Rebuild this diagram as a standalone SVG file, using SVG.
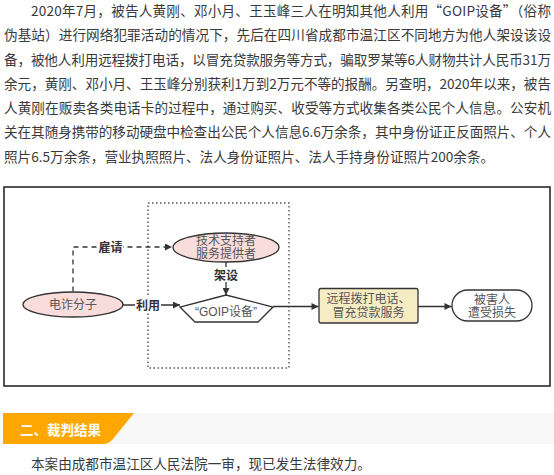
<svg xmlns="http://www.w3.org/2000/svg" width="554" height="475" viewBox="0 0 554 475">
<defs>
<style>
.p{font-family:"Noto Sans CJK SC","Liberation Sans",sans-serif;font-size:13.6px;fill:#3a3a3a;dominant-baseline:central}
.n{font-family:"Liberation Sans","Noto Sans CJK SC",sans-serif;font-size:12px;fill:#555;text-anchor:middle;dominant-baseline:central}
.l{font-family:"Noto Sans CJK SC","Liberation Sans",sans-serif;font-size:12px;font-weight:bold;fill:#333;text-anchor:middle;dominant-baseline:central}
.e{stroke:#333;stroke-width:1.3;fill:none}
.pink{fill:#f9dcdc;stroke:#333;stroke-width:1.3}
</style>
<marker id="ah" viewBox="0 0 10 10" refX="10" refY="5" markerWidth="9" markerHeight="7" markerUnits="userSpaceOnUse" orient="auto">
<path d="M0,0 L10,5 L0,10 Z" fill="#333"/>
</marker>
</defs>
<rect width="554" height="475" fill="#fff"/>
<g id="body-text">
<text class="p" x="31" y="9.5" textLength="520" lengthAdjust="spacing">2020年7月，被告人黄刚、邓小月、王玉峰三人在明知其他人利用“GOIP设备”（俗称</text>
<text class="p" x="4" y="34" textLength="547" lengthAdjust="spacing">伪基站）进行网络犯罪活动的情况下，先后在四川省成都市温江区不同地方为他人架设该设</text>
<text class="p" x="4" y="58.5" textLength="547" lengthAdjust="spacing">备，被他人利用远程拨打电话，以冒充贷款服务等方式，骗取罗某等6人财物共计人民币31万</text>
<text class="p" x="4" y="83" textLength="547" lengthAdjust="spacing">余元，黄刚、邓小月、王玉峰分别获利1万到2万元不等的报酬。另查明，2020年以来，被告</text>
<text class="p" x="4" y="107" textLength="547" lengthAdjust="spacing">人黄刚在贩卖各类电话卡的过程中，通过购买、收受等方式收集各类公民个人信息。公安机</text>
<text class="p" x="4" y="131" textLength="547" lengthAdjust="spacing">关在其随身携带的移动硬盘中检查出公民个人信息6.6万余条，其中身份证正反面照片、个人</text>
<text class="p" x="4" y="155.5">照片6.5万余条，营业执照照片、法人身份证照片、法人手持身份证照片200余条。</text>
</g>
<g id="frame">
<rect x="4" y="187" width="546" height="199" fill="#fff" stroke="#2a2a2a" stroke-width="1.6"/>
<rect x="148" y="203" width="141" height="165" fill="none" stroke="#555" stroke-width="1.4" stroke-dasharray="1.5,2.5"/>
</g>
<g id="connectors">
<path class="e" d="M73,291.5 V247 H172" stroke-dasharray="5,4" marker-end="url(#ah)"/>
<rect x="98" y="239" width="25" height="16" fill="#fff"/>
<text class="l" x="110.5" y="246.5">雇请</text>
<path class="e" d="M123,305 H180" marker-end="url(#ah)"/>
<rect x="135" y="297" width="26" height="16" fill="#fff"/>
<text class="l" x="148" y="304.5">利用</text>
<path class="e" d="M226,262 V295" marker-end="url(#ah)"/>
<rect x="213" y="267" width="26" height="15" fill="#fff"/>
<text class="l" x="226" y="274">架设</text>
<path class="e" d="M273,306.5 H318.5" marker-end="url(#ah)"/>
<path class="e" d="M418,306.5 H451.5" marker-end="url(#ah)"/>
</g>
<g id="node-fraud">
<ellipse class="pink" cx="73" cy="304.5" rx="50" ry="12.5"/>
<text class="n" x="73" y="304.5">电诈分子</text>
</g>
<g id="node-support">
<ellipse class="pink" cx="226" cy="247.5" rx="53" ry="14.5"/>
<text class="n"><tspan x="226" y="240.5">技术支持者</tspan><tspan x="226" y="254">服务提供者</tspan></text>
</g>
<g id="node-goip">
<path d="M226,295 L180,307 L195,322 L258,322 L273,307 Z" fill="#fff" stroke="#333" stroke-width="1.3"/>
<text class="n" x="226" y="311.5">“GOIP设备”</text>
</g>
<g id="node-call">
<rect x="319" y="288.5" width="99" height="34.5" rx="2" fill="#f6ecc4" stroke="#333" stroke-width="1.3"/>
<text class="n"><tspan x="368.5" y="299">远程拨打电话、</tspan><tspan x="368.5" y="312.5">冒充贷款服务</tspan></text>
</g>
<g id="node-victim">
<rect x="452" y="290" width="80" height="31" rx="15.5" fill="#fff" stroke="#333" stroke-width="1.3"/>
<text class="n"><tspan x="492" y="299.5">被害人</tspan><tspan x="492" y="313">遭受损失</tspan></text>
</g>
<g id="section">
<rect x="3" y="413" width="551" height="31" fill="#f8f8f8"/>
<path d="M3,413 H134 L113,439 Q109,444 103,444 H3 Z" fill="#fea700"/>
<text x="20" y="429" font-family="Noto Sans CJK SC,sans-serif" font-size="13.5" font-weight="bold" fill="#fff" dominant-baseline="central">二、裁判结果</text>
<text class="p" x="31" y="463">本案由成都市温江区人民法院一审，现已发生法律效力。</text>
</g>
</svg>
